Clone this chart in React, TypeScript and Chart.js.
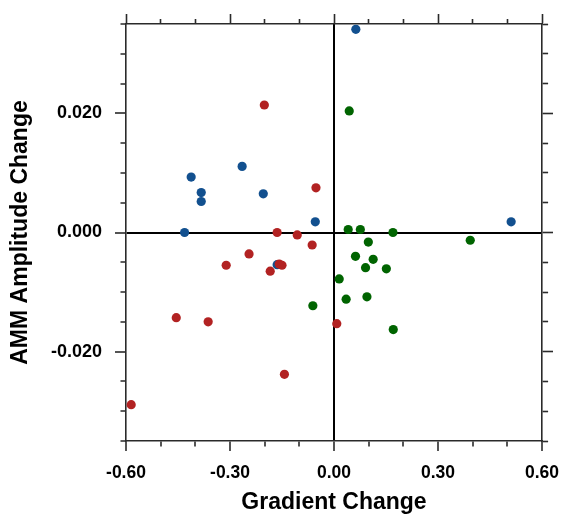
import React, { useEffect, useRef } from 'react';
import { Chart, registerables } from 'chart.js';

Chart.register(...registerables);

// ---- data ----
const blueX = [0.063, 0.511, -0.412, -0.383, -0.383, -0.265, -0.204, -0.054, -0.431, -0.164];
const blueY = [0.0341, 0.0018, 0.0093, 0.0067, 0.0052, 0.0111, 0.0065, 0.0018, 0.0, -0.0054];

const redX = [-0.201, -0.052, -0.164, -0.106, -0.063, -0.245, -0.311, -0.184, -0.158, -0.15, -0.455, -0.363, -0.143, -0.585, 0.008];
const redY = [0.0214, 0.0075, 0.0, -0.0004, -0.0021, -0.0036, -0.0055, -0.0065, -0.0053, -0.0055, -0.0143, -0.015, -0.0238, -0.0289, -0.0153];

const greenX = [0.044, 0.041, 0.076, 0.099, 0.17, 0.393, 0.062, 0.113, 0.091, 0.151, 0.015, 0.035, 0.095, 0.171, -0.061];
const greenY = [0.0204, 0.0005, 0.0005, -0.0016, 0.0, -0.0013, -0.004, -0.0045, -0.0059, -0.0061, -0.0078, -0.0112, -0.0108, -0.0163, -0.0123];

// ---- axes / ticks ----
const xMin = -0.6;
const xMax = 0.6;
const xStep = 0.1;
const xMajorTicks = [-0.6, -0.3, 0, 0.3, 0.6];

const yMin = -0.035;
const yMax = 0.035;
const yStep = 0.005;
const yMajorTicks = [-0.02, 0, 0.02];

const xTitle = 'Gradient Change';
const yTitle = 'AMM Amplitude Change';

const FONT = '"Liberation Sans", Arial, Helvetica, sans-serif';

const isMajor = (v: number, majors: number[]) => majors.some((m) => Math.abs(m - v) < 1e-9);

function tickDash(majors: number[], tl: number, minor: number, outerFirst: boolean) {
  return (ctx: any) => {
    const v = ctx?.tick?.value;
    if (v === undefined || isMajor(v, majors)) return [];
    return outerFirst ? [0, tl - minor, minor, 200] : [minor, 200];
  };
}

const zeroColor = (ctx: any) => {
  const v = ctx?.tick?.value;
  return v !== undefined && Math.abs(v) < 1e-12 ? '#000000' : 'rgba(0,0,0,0)';
};

export default function App() {
  const ref = useRef<HTMLCanvasElement>(null);

  useEffect(() => {
    if (!ref.current) return;
    const toPts = (xs: number[], ys: number[]) => xs.map((x, i) => ({ x, y: ys[i] }));
    const frameColor = '#2a2a2a';
    const frameWidth = 1.6;
    const xTL = 10;
    const yTL = 11;

    const chart = new Chart(ref.current, {
      type: 'scatter',
      data: {
        datasets: [
          {
            label: 'green',
            data: toPts(greenX, greenY),
            backgroundColor: '#006400',
            borderColor: '#006400',
            borderWidth: 0,
            pointRadius: 4.6,
            pointHoverRadius: 4.6,
          },
          {
            label: 'red',
            data: toPts(redX, redY),
            backgroundColor: '#b22222',
            borderColor: '#b22222',
            borderWidth: 0,
            pointRadius: 4.6,
            pointHoverRadius: 4.6,
          },
          {
            label: 'blue',
            data: toPts(blueX, blueY),
            backgroundColor: '#12508f',
            borderColor: '#12508f',
            borderWidth: 0,
            pointRadius: 4.6,
            pointHoverRadius: 4.6,
          },
        ],
      },
      options: {
        animation: false,
        responsive: false,
        devicePixelRatio: 1,
        layout: { padding: 0, autoPadding: false },
        plugins: {
          legend: { display: false },
          tooltip: { enabled: false },
        },
        scales: {
          x: {
            type: 'linear',
            position: 'bottom',
            min: xMin,
            max: xMax,
            afterFit: (s: any) => { s.height = 76; s.paddingLeft = 0; s.paddingRight = 0; },
            ticks: {
              stepSize: xStep,
              autoSkip: false,
              maxRotation: 0,
              minRotation: 0,
              padding: 12,
              color: '#000',
              font: { family: FONT, size: 17.5, weight: 'bold' },
              callback: (v: any) => (isMajor(Number(v), xMajorTicks) ? Number(v).toFixed(2) : ''),
            },
            grid: {
              drawOnChartArea: true,
              color: zeroColor,
              lineWidth: 2,
              tickLength: xTL,
              tickColor: frameColor,
              tickWidth: frameWidth,
              tickBorderDash: tickDash(xMajorTicks, xTL, 5, false),
            },
            border: { display: true, color: frameColor, width: frameWidth },
            title: {
              display: true,
              text: xTitle,
              color: '#000',
              font: { family: FONT, size: 23, weight: 'bold' },
              padding: { top: 0, bottom: 1 },
            },
          },
          xTop: {
            type: 'linear',
            position: 'top',
            min: xMin,
            max: xMax,
            afterFit: (s: any) => { s.height = 24; s.paddingLeft = 0; s.paddingRight = 0; },
            ticks: {
              stepSize: xStep,
              autoSkip: false,
              maxRotation: 0,
              minRotation: 0,
              callback: () => '',
            },
            grid: {
              drawOnChartArea: false,
              tickLength: xTL,
              tickColor: frameColor,
              tickWidth: frameWidth,
              tickBorderDash: tickDash(xMajorTicks, xTL, 5, true),
            },
            border: { display: true, color: frameColor, width: frameWidth },
          },
          y: {
            type: 'linear',
            position: 'left',
            min: yMin,
            max: yMax,
            afterFit: (s: any) => { s.width = 126; s.paddingTop = 0; s.paddingBottom = 0; },
            ticks: {
              stepSize: yStep,
              autoSkip: false,
              padding: 13,
              color: '#000',
              font: { family: FONT, size: 18, weight: 'bold' },
              callback: (v: any) => (isMajor(Number(v), yMajorTicks) ? Number(v).toFixed(3) : ''),
            },
            grid: {
              drawOnChartArea: true,
              color: zeroColor,
              lineWidth: 2,
              tickLength: yTL,
              tickColor: frameColor,
              tickWidth: frameWidth,
              tickBorderDash: tickDash(yMajorTicks, yTL, 5.5, true),
            },
            border: { display: true, color: frameColor, width: frameWidth },
            title: {
              display: true,
              text: yTitle,
              color: '#000',
              font: { family: FONT, size: 23, weight: 'bold' },
              padding: { top: 7, bottom: 0 },
            },
          },
          yRight: {
            type: 'linear',
            position: 'right',
            min: yMin,
            max: yMax,
            afterFit: (s: any) => { s.width = 20; s.paddingTop = 0; s.paddingBottom = 0; },
            ticks: {
              stepSize: yStep,
              autoSkip: false,
              callback: () => '',
            },
            grid: {
              drawOnChartArea: false,
              tickLength: yTL,
              tickColor: frameColor,
              tickWidth: frameWidth,
              tickBorderDash: tickDash(yMajorTicks, yTL, 5.5, false),
            },
            border: { display: true, color: frameColor, width: frameWidth },
          },
        },
      } as any,
    });

    return () => chart.destroy();
  }, []);

  return (
    <div style={{ position: 'absolute', left: 0, top: 0, width: 562, height: 517, background: '#fff' }}>
      <canvas ref={ref} width={562} height={517} style={{ display: 'block', width: 562, height: 517 }} />
    </div>
  );
}
